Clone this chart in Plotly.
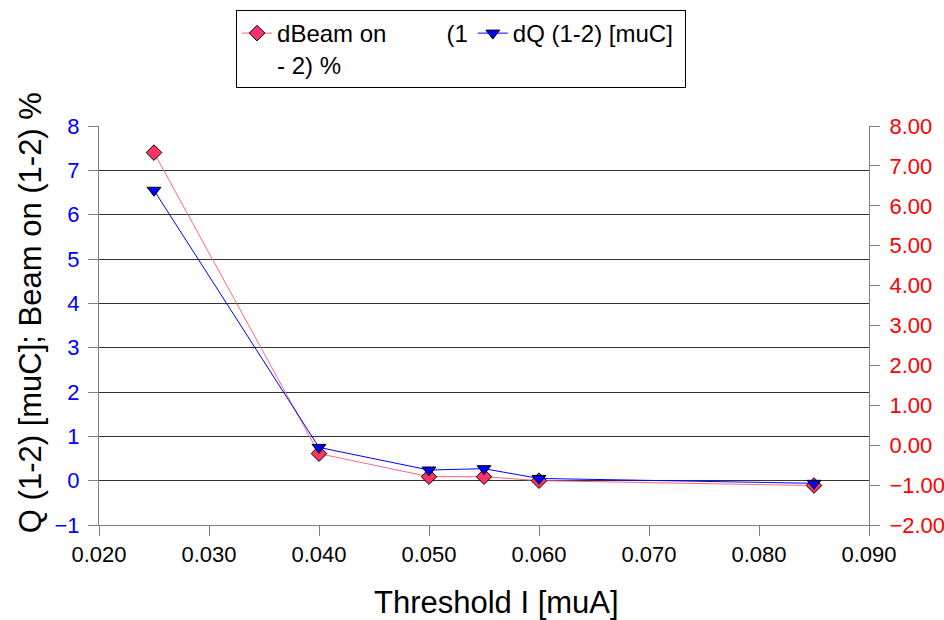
import plotly.graph_objects as go

threshold = [0.025, 0.040, 0.050, 0.055, 0.060, 0.085]
d_beam_on = [7.40, 0.61, 0.09, 0.09, 0.00, -0.11]
d_q = [6.55, 0.75, 0.24, 0.27, 0.05, -0.06]

name_beam = "dBeam on" + "\u00a0" * 9 + "(1<br>- 2) %"
name_q = "dQ (1-2) [muC]\u00a0"
x_title = "Threshold I [muA]"
y_title = "Q (1-2) [muC]; Beam on (1-2) %"

FONT = "Arial, Liberation Sans, sans-serif"

fig = go.Figure()
fig.add_trace(go.Scatter(
    x=threshold, y=d_beam_on, name=name_beam, mode="lines+markers",
    line=dict(color="#FF6680", width=1),
    marker=dict(symbol="diamond", size=12, color="#FF3366",
                line=dict(color="#000000", width=1)),
))
fig.add_trace(go.Scatter(
    x=threshold, y=d_q, name=name_q, mode="lines+markers",
    line=dict(color="#0000FF", width=1),
    marker=dict(symbol="triangle-down", size=12, color="#0000FF",
                line=dict(color="#000000", width=1)),
))
fig.add_trace(go.Scatter(x=[None], y=[None], yaxis="y2", showlegend=False,
                         hoverinfo="skip"))

fig.update_layout(
    width=944, height=620,
    margin=dict(l=99, r=75, t=126, b=95, autoexpand=False),
    paper_bgcolor="white", plot_bgcolor="white",
    font=dict(family=FONT, size=22, color="black"),
    showlegend=True,
    legend=dict(
        orientation="h", x=0.178, y=1.2907, xanchor="left", yanchor="top",
        bordercolor="black", borderwidth=1, bgcolor="white",
        font=dict(family=FONT, size=24, color="black"),
        valign="top", traceorder="normal",
    ),
    xaxis=dict(
        range=[0.02, 0.09], dtick=0.01, tick0=0.02, tickformat=".3f",
        showgrid=False, zeroline=False, automargin=False,
        showline=True, linecolor="#808080", linewidth=1,
        ticks="outside", ticklen=10, tickcolor="#808080",
        tickfont=dict(family=FONT, size=22, color="black"),
    ),
    yaxis=dict(
        range=[-1, 8], dtick=1, tick0=0,
        showgrid=True, gridcolor="#333333", gridwidth=1,
        zeroline=False, automargin=False,
        showline=True, linecolor="#808080", linewidth=1,
        ticks="outside", ticklen=10, tickcolor="#808080",
        ticklabelstandoff=4,
        tickfont=dict(family=FONT, size=22, color="#0000FF"),
    ),
    yaxis2=dict(
        range=[-2, 8], dtick=1, tick0=0, tickformat=".2f",
        overlaying="y", side="right", anchor="x", automargin=False,
        showgrid=False, zeroline=False,
        showline=True, linecolor="#808080", linewidth=1,
        ticks="outside", ticklen=10, tickcolor="#808080",
        ticklabelstandoff=5,
        tickfont=dict(family=FONT, size=22, color="#FF0000"),
    ),
    annotations=[
        dict(text=x_title, xref="paper", yref="paper", x=0.516, y=-0.193,
             xanchor="center", yanchor="middle", showarrow=False,
             font=dict(family=FONT, size=31, color="black")),
        dict(text=y_title, xref="paper", yref="paper", x=-0.0896, y=0.531,
             xanchor="center", yanchor="middle", showarrow=False,
             textangle=-90,
             font=dict(family=FONT, size=31, color="black")),
    ],
)

fig.write_html(
    "out.html",
    config={"displayModeBar": False},
    post_script="document.body.style.margin='0';document.body.style.overflow='hidden';",
)
